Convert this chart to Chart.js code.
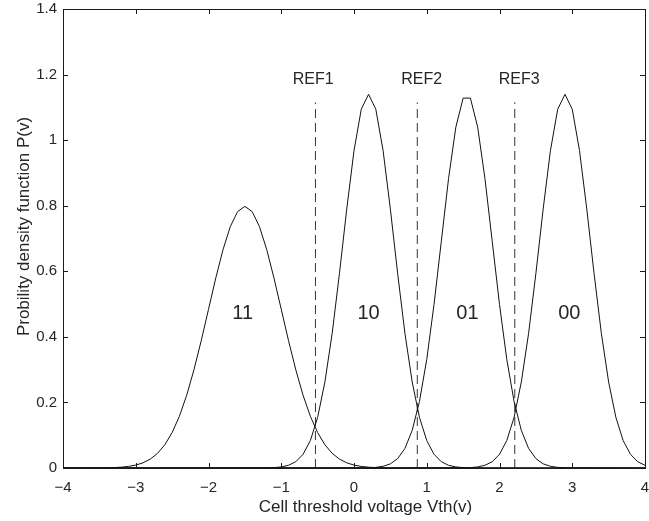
<!DOCTYPE html>
<html>
<head>
<meta charset="utf-8">
<script src="https://cdn.jsdelivr.net/npm/chart.js@4/dist/chart.umd.min.js"></script>
<style>
  html, body { margin: 0; padding: 0; background: #fff; }
  #wrap { width: 649px; height: 521px; }
</style>
</head>
<body>
<div id="wrap"><canvas id="c" width="649" height="521"></canvas></div>
<script>
// ---- data ----
const x11 = [-4, -3.5, -3.4, -3.3, -3.2, -3.1, -3.0, -2.9, -2.8, -2.7, -2.6, -2.5, -2.4, -2.3, -2.2, -2.1, -2.0, -1.9, -1.8, -1.7, -1.6, -1.5, -1.4, -1.3, -1.2, -1.1, -1.0, -0.9, -0.8, -0.7, -0.6, -0.5, -0.4, -0.3, -0.2, -0.1, 0.0, 0.1, 0.2, 0.3, 0.4, 0.5, 4];
const y11 = [0, 0.0003, 0.0006, 0.0012, 0.0025, 0.0048, 0.0089, 0.0158, 0.0271, 0.0448, 0.0709, 0.108, 0.1579, 0.2218, 0.2995, 0.3884, 0.4839, 0.5794, 0.6664, 0.7365, 0.7821, 0.7979, 0.7821, 0.7365, 0.6664, 0.5794, 0.4839, 0.3884, 0.2995, 0.2218, 0.1579, 0.108, 0.0709, 0.0448, 0.0271, 0.0158, 0.0089, 0.0048, 0.0025, 0.0012, 0.0006, 0.0003, 0];

const x10 = [-4, -1.2, -1.1, -1.0, -0.9, -0.8, -0.7, -0.6, -0.5, -0.4, -0.3, -0.2, -0.1, 0.0, 0.1, 0.2, 0.3, 0.4, 0.5, 0.6, 0.7, 0.8, 0.9, 1.0, 1.1, 1.2, 1.3, 1.4, 1.5, 1.6, 4];
const y10 = [0, 0.0004, 0.0011, 0.0032, 0.0082, 0.0192, 0.0418, 0.0836, 0.1543, 0.2623, 0.4108, 0.5932, 0.7894, 0.968, 1.0942, 1.1398, 1.0942, 0.968, 0.7894, 0.5932, 0.4108, 0.2623, 0.1543, 0.0836, 0.0418, 0.0192, 0.0082, 0.0032, 0.0011, 0.0004, 0];

const x01 = [-4, 0.2, 0.3, 0.4, 0.5, 0.6, 0.7, 0.8, 0.9, 1.0, 1.1, 1.2, 1.3, 1.4, 1.5, 1.6, 1.7, 1.8, 1.9, 2.0, 2.1, 2.2, 2.3, 2.4, 2.5, 2.6, 2.7, 2.8, 2.9, 4];
const y01 = [0, 0.0007, 0.0019, 0.0052, 0.0127, 0.0286, 0.0597, 0.1148, 0.2032, 0.3316, 0.4988, 0.6913, 0.8831, 1.0398, 1.1282, 1.1282, 1.0398, 0.8831, 0.6913, 0.4988, 0.3316, 0.2032, 0.1148, 0.0597, 0.0286, 0.0127, 0.0052, 0.0019, 0.0007, 0];

const x00 = [-4, 1.6, 1.7, 1.8, 1.9, 2.0, 2.1, 2.2, 2.3, 2.4, 2.5, 2.6, 2.7, 2.8, 2.9, 3.0, 3.1, 3.2, 3.3, 3.4, 3.5, 3.6, 3.7, 3.8, 3.9, 4.0];
const y00 = [0, 0.0011, 0.0032, 0.0082, 0.0192, 0.0418, 0.0836, 0.1543, 0.2623, 0.4108, 0.5932, 0.7894, 0.968, 1.0942, 1.1398, 1.0942, 0.968, 0.7894, 0.5932, 0.4108, 0.2623, 0.1543, 0.0836, 0.0418, 0.0192, 0.0082];

const refX = [-0.53, 0.87, 2.21];
const refTop = 1.115;
const refLabels = ['REF1', 'REF2', 'REF3'];
const refLabelX = [-0.56, 0.93, 2.27];
const refLabelY = 1.185;

const stateLabels = ['11', '10', '01', '00'];
const stateLabelX = [-1.53, 0.2, 1.56, 2.96];
const stateLabelY = 0.47;

const xTicks = [-4, -3, -2, -1, 0, 1, 2, 3, 4];
const yTicks = [0, 0.2, 0.4, 0.6, 0.8, 1, 1.2, 1.4];

const xTitle = 'Cell threshold voltage Vth(v)';
const yTitle = 'Probility density function P(v)';

// ---- build ----
const FONT = '"Liberation Sans", Arial, Helvetica, sans-serif';
const TXT = '#262626';
function pts(xs, ys) { return xs.map((x, i) => ({ x: x, y: ys[i] })); }

const curveStyle = { showLine: true, pointRadius: 0, borderColor: '#111', borderWidth: 1, tension: 0, fill: false };
const datasets = [
  Object.assign({ label: '11', data: pts(x11, y11) }, curveStyle),
  Object.assign({ label: '10', data: pts(x10, y10) }, curveStyle),
  Object.assign({ label: '01', data: pts(x01, y01) }, curveStyle),
  Object.assign({ label: '00', data: pts(x00, y00) }, curveStyle)
];
refX.forEach((rx, i) => {
  datasets.push({
    label: refLabels[i],
    data: [{ x: rx, y: 0 }, { x: rx, y: refTop }],
    showLine: true, pointRadius: 0, borderColor: '#333', borderWidth: 1,
    borderDash: [9, 5], fill: false
  });
});

const decor = {
  id: 'decor',
  afterDatasetsDraw(chart) {
    const ctx = chart.ctx, a = chart.chartArea;
    const sx = chart.scales.x, sy = chart.scales.y;
    ctx.save();
    // box
    ctx.strokeStyle = '#1a1a1a';
    ctx.lineWidth = 1;
    ctx.strokeRect(Math.round(a.left) + 0.5, Math.round(a.top) + 0.5,
                   Math.round(a.right) - Math.round(a.left) - 1 + 1, Math.round(a.bottom) - Math.round(a.top));
    // inward ticks
    const L = 5;
    ctx.beginPath();
    xTicks.forEach(v => {
      const px = Math.round(sx.getPixelForValue(v)) + 0.5;
      ctx.moveTo(px, a.bottom); ctx.lineTo(px, a.bottom - L);
      ctx.moveTo(px, a.top); ctx.lineTo(px, a.top + L);
    });
    yTicks.forEach(v => {
      const py = Math.round(sy.getPixelForValue(v)) + 0.5;
      ctx.moveTo(a.left, py); ctx.lineTo(a.left + L, py);
      ctx.moveTo(a.right, py); ctx.lineTo(a.right - L, py);
    });
    ctx.stroke();
    // text labels
    ctx.fillStyle = TXT;
    ctx.textAlign = 'center';
    ctx.textBaseline = 'middle';
    ctx.font = '16px ' + FONT;
    refLabels.forEach((t, i) => {
      ctx.fillText(t, sx.getPixelForValue(refLabelX[i]), sy.getPixelForValue(refLabelY));
    });
    ctx.font = '20px ' + FONT;
    stateLabels.forEach((t, i) => {
      ctx.fillText(t, sx.getPixelForValue(stateLabelX[i]), sy.getPixelForValue(stateLabelY));
    });
    // axis titles
    ctx.font = '17px ' + FONT;
    ctx.textBaseline = 'alphabetic';
    ctx.fillText(xTitle, 365.5, 512);
    ctx.translate(28.5, 226.5);
    ctx.rotate(-Math.PI / 2);
    ctx.fillText(yTitle, 0, 0);
    ctx.restore();
  }
};

new Chart(document.getElementById('c'), {
  type: 'scatter',
  data: { datasets: datasets },
  plugins: [decor],
  options: {
    responsive: false,
    animation: false,
    events: [],
    layout: { padding: { left: 0, right: 4, top: 9, bottom: 0 } },
    plugins: { legend: { display: false }, tooltip: { enabled: false } },
    scales: {
      x: {
        type: 'linear', min: -4, max: 4,
        grid: { display: false, drawTicks: false },
        border: { display: false },
        ticks: {
          stepSize: 1, padding: 11, color: TXT, maxRotation: 0,
          font: { family: FONT, size: 15 },
          callback: v => (v < 0 ? '\u2212' + Math.abs(v) : String(v))
        },
        afterFit: s => { s.height = 53; s.paddingLeft = 0; s.paddingRight = 0; }
      },
      y: {
        type: 'linear', min: 0, max: 1.4,
        grid: { display: false, drawTicks: false },
        border: { display: false },
        ticks: {
          stepSize: 0.2, padding: 6, color: TXT,
          font: { family: FONT, size: 15 },
          callback: v => String(Math.round(v * 10) / 10)
        },
        afterFit: s => { s.width = 63; s.paddingTop = 0; s.paddingBottom = 0; }
      }
    }
  }
});
</script>
</body>
</html>
